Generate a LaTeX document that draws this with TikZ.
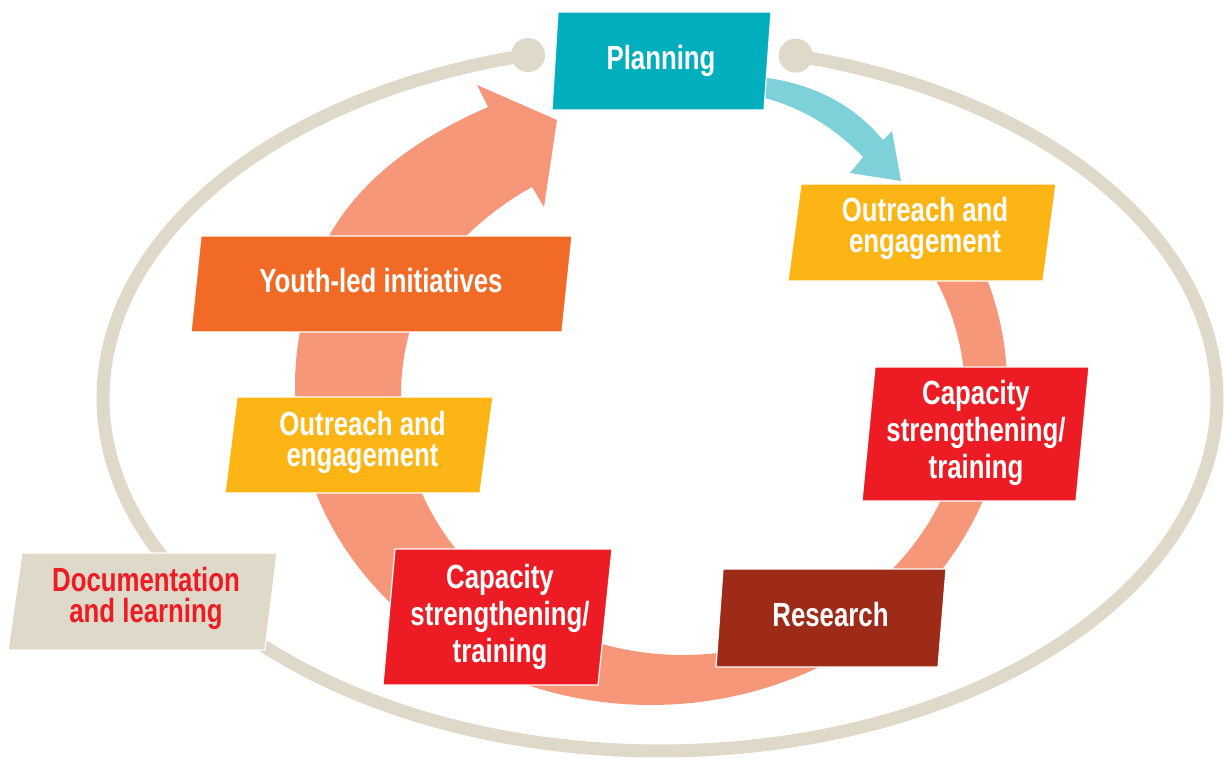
\documentclass[tikz,border=0pt]{standalone}
\usepackage{fontspec}
\newfontfamily\labfont{Liberation Sans}[FakeStretch=0.77]
\definecolor{cPlan}{HTML}{00AEBD}
\definecolor{cArrow}{HTML}{7FD1D9}
\definecolor{cSalmon}{HTML}{F7977A}
\definecolor{cBeige}{HTML}{DED9C8}
\definecolor{cYellow}{HTML}{FDB515}
\definecolor{cOrange}{HTML}{F26B26}
\definecolor{cRed}{HTML}{ED1C24}
\definecolor{cBrown}{HTML}{9E2A18}
\begin{document}
\begin{tikzpicture}[x=1pt,y=-1pt,
  lab/.style={font={\labfont\bfseries\fontsize{33.5}{31}\selectfont\lineskiplimit=-100pt}, text=white, align=center, inner sep=0pt},
  labwide/.style={font={\labfont\bfseries\fontsize{33.5}{37}\selectfont\lineskiplimit=-100pt}},
  labdoc/.style={text=cRed},
  pbox/.style={draw=white, line width=1.2pt}]
\useasboundingbox (0,0) rectangle (1224,759);
% outer beige ellipse
\draw[cBeige, line width=13pt] plot[domain=284.1:616.3, samples=240] ({660+557*cos(\x)},{398+353*sin(\x)});
\fill[cBeige] (795.7,55.6) circle[radius=17pt];
\fill[cBeige] (528.1,55.0) circle[radius=17pt];
% salmon cycle arrow
\fill[cSalmon] plot[domain=-26.9:189, samples=160] ({651+356*cos(\x)},{385+320*sin(\x)})
  .. controls (310,215) and (390,150) .. (488,107) -- (477,85) -- (557,120) -- (544,207) -- (532,187)
  .. controls (490,210) and (440,253) .. (420,300)
  -- plot[domain=0:1, samples=160] ({683+282*cos(201.4-238*\x)},{395+260*sin(201.4-238*\x)}) -- cycle;
% teal arrow
\fill[cArrow] (760,77) .. controls (805,82) and (850,100) .. (883,140) -- (892,131) -- (901,181) -- (850,173) -- (863,157)
  .. controls (835,128) and (800,106) .. (760,97) -- cycle;
% boxes
\filldraw[pbox, fill=cBeige] (22,553) -- (277,553) -- (265,650) -- (8,650) -- cycle;
\filldraw[pbox, fill=cPlan] (558,12) -- (771,12) -- (764,110) -- (552,110) -- cycle;
\filldraw[pbox, fill=cYellow] (801,184) -- (1056,184) -- (1043,281) -- (788,281) -- cycle;
\filldraw[pbox, fill=cRed] (875,367) -- (1089,367) -- (1076,501) -- (862,501) -- cycle;
\filldraw[pbox, fill=cBrown] (723,569) -- (946,569) -- (938,667) -- (716,667) -- cycle;
\filldraw[pbox, fill=cOrange] (201,236) -- (572,236) -- (562,332) -- (191,332) -- cycle;
\filldraw[pbox, fill=cYellow] (237,397) -- (493,397) -- (480,493) -- (225,493) -- cycle;
\filldraw[pbox, fill=cRed] (395,549) -- (612,549) -- (598,685) -- (383,685) -- cycle;
% labels
\node[lab] (planning) at (661,61.25) {Planning};
\node[lab] (outR) at (925,228.75) {Outreach and\\engagement};
\node[lab, labwide] (capR) at (976,432.75) {Capacity\\strengthening/\\training};
\node[lab] (research) at (830.5,614.75) {Research};
\node[lab] (youth) at (381,280.75) {Youth-led initiatives};
\node[lab] (outL) at (362.5,442.25) {Outreach and\\engagement};
\node[lab, labwide] (capL) at (500,616.75) {Capacity\\strengthening/\\training};
\node[lab, labdoc] (doc) at (146,598.75) {Documentation\\and learning};
\end{tikzpicture}
\end{document}
